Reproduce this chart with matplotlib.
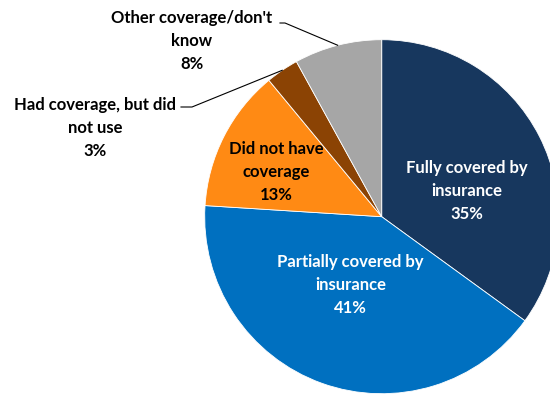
import matplotlib
matplotlib.use("Agg")
import matplotlib.pyplot as plt
import numpy as np

# Share of costs covered, clockwise from 12 o'clock
categories = [
    "Fully covered by\ninsurance",
    "Partially covered by\ninsurance",
    "Did not have\ncoverage",
    "Had coverage, but did\nnot use",
    "Other coverage/don't\nknow",
]
shares = [35, 41, 13, 3, 8]
colors = ["#17375E", "#0070C0", "#FF8A14", "#8B4304", "#A6A6A6"]
text_colors = ["white", "white", "black", "black", "black"]

W, H = 550, 394
plt.rcParams["font.family"] = ["Lato", "DejaVu Sans"]


def main():
    fig = plt.figure(figsize=(W / 100, H / 100), dpi=100)
    ax = fig.add_axes([0, 0, 1, 1])

    cx, cy, r = 381.7, H - 216.7, 177
    wedges, _ = ax.pie(
        shares,
        colors=colors,
        startangle=90,
        counterclock=False,
        center=(cx, cy),
        radius=r,
        wedgeprops=dict(edgecolor="white", linewidth=0.6),
    )
    ax.set_xlim(0, W)
    ax.set_ylim(0, H)
    ax.set_aspect("equal")
    ax.axis("off")

    # label anchors in pixel space (x, y from top)
    label_pos = [(466.7, 191), (350.7, 285), (276, 172), (95, 128), (192, 41)]
    for name, val, (x, y), tc in zip(categories, shares, label_pos, text_colors):
        ax.text(x, H - y, f"{name}\n{val}%", ha="center", va="center",
                fontsize=12, fontweight="bold", color=tc, linespacing=1.55)

    # leader lines for the two small outside labels
    leaders = [
        (3, [(181, 107), (192, 107)]),
        (4, [(280, 23), (285, 23)]),
    ]
    for idx, pts in leaders:
        w = wedges[idx]
        mid = np.deg2rad((w.theta1 + w.theta2) / 2)
        ex, ey = cx + r * np.cos(mid), cy + r * np.sin(mid)
        xs = [p[0] for p in pts] + [ex]
        ys = [H - p[1] for p in pts] + [ey]
        ax.plot(xs, ys, color="black", linewidth=0.8)

    fig.savefig("out.png", dpi=100)


if __name__ == "__main__":
    main()
